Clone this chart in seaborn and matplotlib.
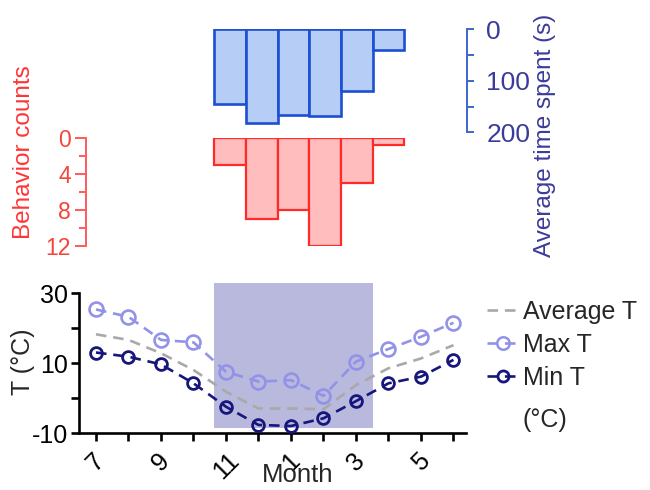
import numpy as np
import pandas as pd
import matplotlib
matplotlib.use("Agg")
import matplotlib.pyplot as plt
import matplotlib.transforms as mtransforms
from matplotlib.patches import Rectangle
from matplotlib.lines import Line2D
from matplotlib.ticker import FixedLocator
import seaborn as sns

# Monthly temperatures (°C), July to June
months = [7, 8, 9, 10, 11, 12, 1, 2, 3, 4, 5, 6]
avg_t = [18.2, 16.6, 12.8, 8.0, 1.8, -3.0, -3.0, -3.2, 3.7, 8.5, 11.3, 15.1]
max_t = [25.3, 23.2, 16.6, 15.9, 7.5, 4.7, 5.1, 0.6, 10.4, 14.0, 17.5, 21.5]
min_t = [13.0, 11.8, 9.6, 4.2, -2.5, -7.7, -8.0, -5.8, -0.9, 4.2, 6.1, 10.9]

# Behaviour observed from November to April
bar_months = [11, 12, 1, 2, 3, 4]
time_spent = [145, 182, 167, 169, 119, 40]
behavior_counts = [3, 9, 8, 12, 5, 0.75]
winter_bars = 5  # Nov-Mar form the shaded winter period

sns.set_style("ticks")
plt.rcParams["font.family"] = ["Liberation Sans", "DejaVu Sans"]

W, H = 650, 490
fig = plt.figure(figsize=(W / 100, H / 100), dpi=100)


def px_axes(left, top, right, bottom):
    return fig.add_axes([left / W, 1 - bottom / H, (right - left) / W, (bottom - top) / H])


BLUE_FACE, BLUE_EDGE, BLUE_TEXT = "#b6cdf6", "#1d4fd2", "#3b3b9b"
RED_FACE, RED_EDGE, RED_TEXT = "#ffbdbd", "#ff2b2b", "#f4453a"
MAX_C, MIN_C, AVG_C, SHADE_C = "#9292e8", "#16167c", "#a9a9a9", "#b8b9dc"

# ---- time spent (top) ----
ax_time = px_axes(79, 29.5, 467, 132.3)
df_time = pd.DataFrame({"month": [str(m) for m in bar_months], "time": time_spent})
sns.barplot(data=df_time, x="month", y="time", ax=ax_time, width=1, color=BLUE_FACE,
            edgecolor=BLUE_EDGE, linewidth=1.9, saturation=1, errorbar=None)
ax_time.set_xlim(-4.77, 7.48)
ax_time.set_ylim(200, 0)
for s in ["left", "top", "bottom"]:
    ax_time.spines[s].set_visible(False)
ax_time.spines["right"].set_color("#3f66c8")
ax_time.spines["right"].set_linewidth(1.4)
ax_time.yaxis.tick_right()
ax_time.set_xticks([])
ax_time.set_yticks([0, 100, 200])
ax_time.yaxis.set_minor_locator(FixedLocator([50, 150]))
ax_time.tick_params(axis="y", which="both", colors="#3f66c8", width=1.4, direction="out",
                    labelcolor=BLUE_TEXT, labelsize=19, pad=9)
ax_time.tick_params(axis="y", which="major", length=5)
ax_time.tick_params(axis="y", which="minor", length=5)
ax_time.set_xlabel("")
ax_time.set_ylabel("")
fig.text(545 / W, 1 - 135 / H, "Average time spent (s)", rotation=90, ha="center",
         va="center", color=BLUE_TEXT, fontsize=17.5)

# ---- behaviour counts (middle) ----
ax_cnt = px_axes(86, 138.3, 466, 246)
df_cnt = pd.DataFrame({"month": [str(m) for m in bar_months], "count": behavior_counts})
sns.barplot(data=df_cnt, x="month", y="count", ax=ax_cnt, width=1, color=RED_FACE,
            edgecolor=RED_EDGE, linewidth=1.6, saturation=1, errorbar=None)
ax_cnt.set_xlim(-4.55, 7.45)
ax_cnt.set_ylim(12, 0)
for s in ["right", "top", "bottom"]:
    ax_cnt.spines[s].set_visible(False)
ax_cnt.spines["left"].set_color("#ff5a5a")
ax_cnt.spines["left"].set_linewidth(1.4)
ax_cnt.set_xticks([])
ax_cnt.set_yticks([0, 4, 8, 12])
ax_cnt.yaxis.set_minor_locator(FixedLocator([2, 6, 10]))
ax_cnt.tick_params(axis="y", which="both", colors="#ff5a5a", width=1.4, direction="out",
                   labelcolor=RED_TEXT, labelsize=16.5, pad=3)
ax_cnt.tick_params(axis="y", which="major", length=8)
ax_cnt.tick_params(axis="y", which="minor", length=5)
ax_cnt.set_xlabel("")
ax_cnt.set_ylabel("")
fig.text(24 / W, 1 - 152 / H, "Behavior counts", rotation=90, ha="center", va="center",
         color="#ff3535", fontsize=17.5)

# ---- temperatures (bottom) ----
ax_t = px_axes(79, 283, 466, 433)
idx = np.arange(len(months))
dash = (4, 2.6)
sns.lineplot(x=idx, y=avg_t, ax=ax_t, color=AVG_C, lw=1.9, dashes=False,
             linestyle=(0, dash), zorder=3)
sns.lineplot(x=idx, y=max_t, ax=ax_t, color=MAX_C, lw=1.9, dashes=False,
             linestyle=(0, dash), marker="o", markersize=10, markerfacecolor="none",
             markeredgecolor=MAX_C, markeredgewidth=1.9, zorder=4)
sns.lineplot(x=idx, y=min_t, ax=ax_t, color=MIN_C, lw=1.9, dashes=False,
             linestyle=(0, dash), marker="o", markersize=8.5, markerfacecolor="none",
             markeredgecolor=MIN_C, markeredgewidth=2.0, zorder=5)
ax_t.set_xlim(-0.523, 11.385)
ax_t.set_ylim(-10, 32.86)

# winter shading aligned with the Nov-Mar bars above
blend = mtransforms.blended_transform_factory(ax_cnt.transData, ax_t.transData)
ax_t.add_patch(Rectangle((-0.5, -8.6), winter_bars, 50, transform=blend,
                         facecolor=SHADE_C, edgecolor="none", zorder=1))

for s in ["right", "top"]:
    ax_t.spines[s].set_visible(False)
ax_t.spines["left"].set_bounds(-10, 30)
for s in ["left", "bottom"]:
    ax_t.spines[s].set_linewidth(1.9)
    ax_t.spines[s].set_color("black")
ax_t.set_yticks([-10, 0, 10, 20, 30])
ax_t.set_yticklabels(["-10", "", "10", "", "30"])
ax_t.set_xticks(idx)
ax_t.set_xticklabels([str(m) if i % 2 == 0 else "" for i, m in enumerate(months)],
                     rotation=45, ha="center")
ax_t.tick_params(axis="both", which="major", width=1.9, length=6, direction="out",
                 colors="black", labelsize=18)
ax_t.tick_params(axis="y", pad=2)
ax_t.tick_params(axis="x", pad=5)
ax_t.set_xlabel("Month", fontsize=18.5)
ax_t.xaxis.set_label_coords((298 - 79) / 387, -0.2)
ax_t.set_ylabel("")
fig.text(23 / W, 1 - 362 / H, "T (°C)", rotation=90, ha="center", va="center",
         fontsize=18)

handles = [
    Line2D([], [], color=AVG_C, lw=1.9, linestyle=(0, dash)),
    Line2D([], [], color=MAX_C, lw=1.9, linestyle=(0, dash), marker="o", markersize=9,
           markerfacecolor="none", markeredgewidth=1.8),
    Line2D([], [], color=MIN_C, lw=1.9, linestyle=(0, dash), marker="o", markersize=8,
           markerfacecolor="none", markeredgewidth=2.0),
]
fig.legend(handles, ["Average T", "Max T", "Min T"], loc="upper left",
           bbox_to_anchor=(487 / W, 1 - 300 / H), frameon=False, fontsize=18,
           handlelength=1.3, handletextpad=0.15, borderpad=0, borderaxespad=0,
           labelspacing=0.36)
fig.text(523 / W, 1 - 420 / H, "(°C)", ha="left", va="center", fontsize=18)

fig.savefig("out.png", dpi=100)
